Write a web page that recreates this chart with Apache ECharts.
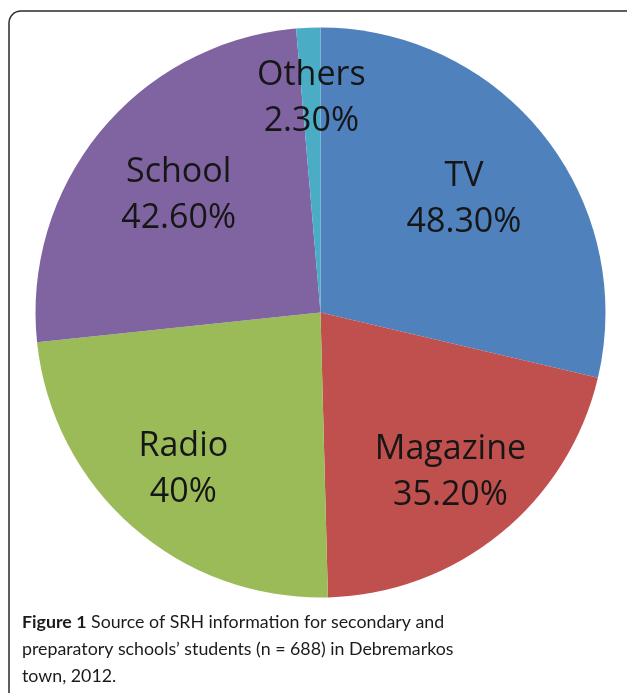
<!DOCTYPE html>
<html>
<head>
<meta charset="utf-8">
<script src="https://cdn.jsdelivr.net/npm/echarts@6/dist/echarts.min.js"></script>
<style>
html,body{margin:0;padding:0;background:#fff;}
#chart{width:627px;height:693px;}
</style>
</head>
<body>
<div id="chart"></div>
<script>
const categories = ['TV', 'Magazine', 'Radio', 'School', 'Others'];
const values = [48.3, 35.2, 40, 42.6, 2.3];
const valueLabels = ['48.30%', '35.20%', '40%', '42.60%', '2.30%'];
const colors = ['#4F81BD', '#C0504D', '#9BBB59', '#8064A2', '#4BACC6'];
const captionBold = 'Figure 1';
const captionLines = [
  ' Source of SRH information for secondary and',
  'preparatory schools\u2019 students (n = 688) in Debremarkos',
  'town, 2012.'
];

// layout settings (label distance from centre for each slice, px)
const labelRadius = [180, 203, 205, 181, 211];
const CX = 320.5, CY = 312.5, R = 285;

const data = categories.map((c, i) => ({ name: c, value: values[i], itemStyle: { color: colors[i] } }));

const labelSeries = categories.map((c, i) => ({
  type: 'pie',
  center: [CX, CY],
  radius: [2 * labelRadius[i] - R, R],
  startAngle: 90,
  clockwise: true,
  silent: true,
  itemStyle: { color: 'rgba(0,0,0,0)', borderWidth: 0 },
  label: {
    show: false,
    position: 'inside',
    formatter: p => p.name + '\n' + valueLabels[p.dataIndex],
    fontFamily: 'Open Sans',
    fontSize: 34,
    lineHeight: 46,
    color: '#161616'
  },
  labelLine: { show: false },
  data: categories.map((n, j) => ({ name: n, value: values[j], label: { show: j === i } }))
}));

const chart = echarts.init(document.getElementById('chart'), null, { renderer: 'canvas' });
chart.setOption({
  animation: false,
  backgroundColor: '#fff',
  graphic: [
    {
      type: 'rect',
      shape: { x: 9, y: 11, width: 700, height: 800, r: 12 },
      style: { fill: 'none', stroke: '#2a2a2a', lineWidth: 1.5 },
      z: 10
    },
    {
      type: 'text',
      left: 22,
      top: 609,
      style: {
        text: '{b|' + captionBold + '}' + captionLines[0] + '\n' + captionLines[1] + '\n' + captionLines[2],
        font: '17.8px Lato',
        fill: '#1e1a1b',
        lineHeight: 27,
        rich: {
          b: { font: 'bold 17.8px Lato', fill: '#1e1a1b', lineHeight: 27 }
        }
      },
      z: 10
    }
  ],
  series: [
    {
      type: 'pie',
      center: [CX, CY],
      radius: [0, R],
      startAngle: 90,
      clockwise: true,
      silent: true,
      label: { show: false },
      labelLine: { show: false },
      itemStyle: { borderWidth: 0 },
      data: data
    }
  ].concat(labelSeries)
});
</script>
</body>
</html>
